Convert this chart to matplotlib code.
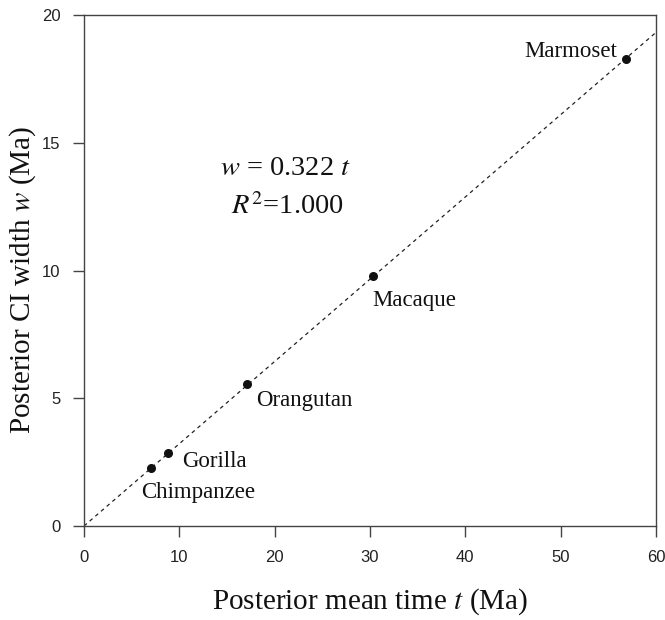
import matplotlib
matplotlib.use("Agg")
import matplotlib.pyplot as plt
import numpy as np

# posterior mean time t (Ma) and CI width w (Ma)
species = ["Chimpanzee", "Gorilla", "Orangutan", "Macaque", "Marmoset"]
t_mean = [7.0, 8.8, 17.1, 30.3, 56.9]
w_width = [2.27, 2.86, 5.56, 9.78, 18.3]
slope = 0.322
r2 = 1.000

xticks = [0, 10, 20, 30, 40, 50, 60]
yticks = [0, 5, 10, 15, 20]

serif = "Liberation Serif"
sans = "Liberation Sans"

fig = plt.figure(figsize=(6.65, 6.2), dpi=100)
ax = fig.add_axes([0.1263, 0.1516, 0.860, 0.824])

# regression line through origin
xx = np.array([0, 60])
ax.plot(xx, slope * xx, linestyle=(0, (3, 3)), color="#222222", linewidth=0.9)
ax.scatter(t_mean, w_width, s=30, color="#111111", zorder=3)

# point labels: (dx, dy, ha) offsets in points
offs = {
    "Chimpanzee": (-7, -17.3, "left"),
    "Gorilla": (10, -5.8, "left"),
    "Orangutan": (6.5, -12.2, "left"),
    "Macaque": (-0.7, -17.3, "left"),
    "Marmoset": (-6.5, 5, "right"),
}
for name, x, y in zip(species, t_mean, w_width):
    dx, dy, ha = offs[name]
    ax.annotate(name, (x, y), xytext=(dx, dy), textcoords="offset points",
                ha=ha, va="center", fontsize=16.5, family=serif, color="#111111")

ax.text(21.1, 14.0, rf"$w$ = {slope:.3f} $t$", fontsize=20.5, family=serif,
        ha="center", va="center", color="#111111", math_fontfamily="stix")
ax.text(21.3, 12.5, rf"$R^2$={r2:.3f}", fontsize=20.5, family=serif,
        ha="center", va="center", color="#111111", math_fontfamily="stix")

ax.set_xlim(0, 60)
ax.set_ylim(0, 20)
ax.set_xticks(xticks)
ax.set_yticks(yticks)
for s in ax.spines.values():
    s.set_color("#444444")
    s.set_linewidth(1.0)
ax.tick_params(direction="out", length=8, width=1.0, color="#444444",
               labelsize=12, labelcolor="#222222", pad=9)
for lab in ax.get_xticklabels() + ax.get_yticklabels():
    lab.set_family(sans)

ax.set_xlabel(r"Posterior mean time $t$ (Ma)", fontsize=21, family=serif,
              color="#111111", labelpad=16, math_fontfamily="stix")
ax.set_ylabel(r"Posterior CI width $w$ (Ma)", fontsize=21, family=serif,
              color="#111111", math_fontfamily="stix")
ax.yaxis.set_label_coords(-0.080, 0.481)

fig.savefig("out.png", dpi=100)
